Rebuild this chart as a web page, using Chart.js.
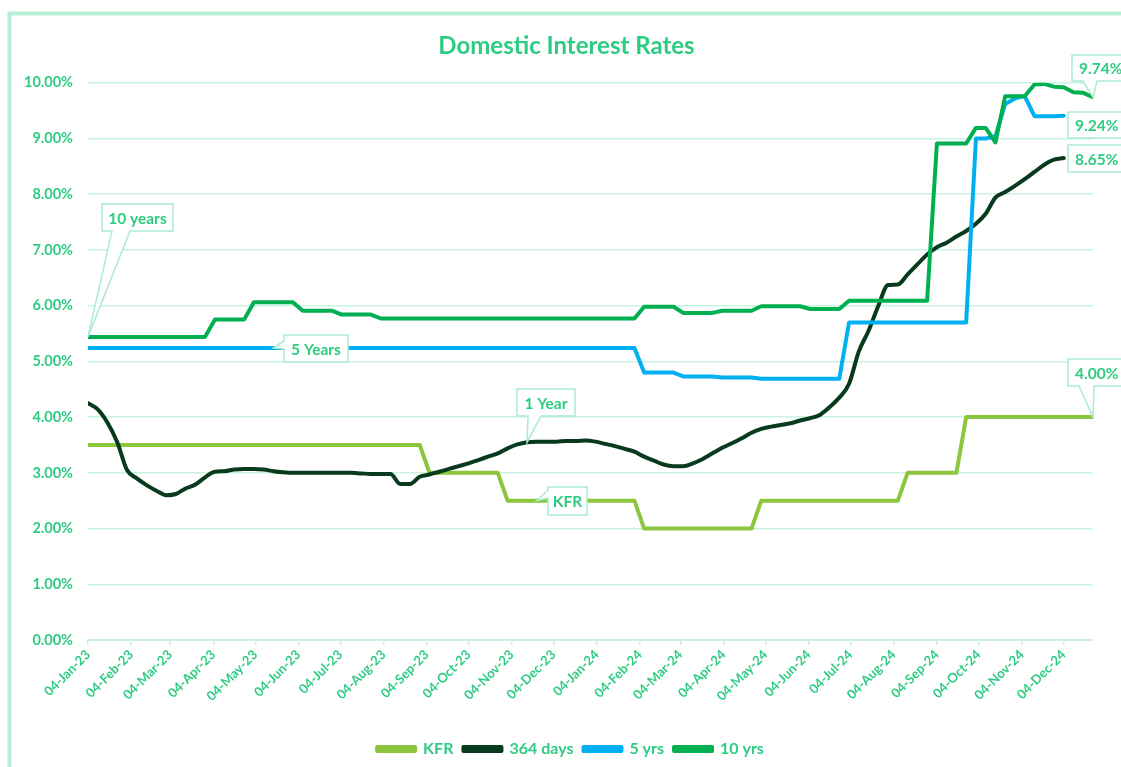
<!DOCTYPE html>
<html><head><meta charset="utf-8">
<script src="https://cdn.jsdelivr.net/npm/chart.js@4.4.1/dist/chart.umd.min.js"></script>
<style>html,body{margin:0;padding:0;background:#fff;overflow:hidden}#wrap{width:1121px;height:767px;position:relative}</style>
</head><body><div id="wrap"><canvas id="c" width="1121" height="767"></canvas></div>
<script>
// ---- DATA ----
const weeks = [
"2023-01-04","2023-01-11","2023-01-18","2023-01-25","2023-02-01","2023-02-08","2023-02-15","2023-02-22",
"2023-03-01","2023-03-08","2023-03-15","2023-03-22","2023-03-29","2023-04-05","2023-04-12","2023-04-19",
"2023-04-26","2023-05-03","2023-05-10","2023-05-17","2023-05-24","2023-05-31","2023-06-07","2023-06-14",
"2023-06-21","2023-06-28","2023-07-05","2023-07-12","2023-07-19","2023-07-26","2023-08-02","2023-08-09",
"2023-08-16","2023-08-23","2023-08-30","2023-09-06","2023-09-13","2023-09-20","2023-09-27","2023-10-04",
"2023-10-11","2023-10-18","2023-10-25","2023-11-01","2023-11-08","2023-11-15","2023-11-22","2023-11-29",
"2023-12-06","2023-12-13","2023-12-20","2023-12-27","2024-01-03","2024-01-10","2024-01-17","2024-01-24",
"2024-01-31","2024-02-07","2024-02-14","2024-02-21","2024-02-28","2024-03-06","2024-03-13","2024-03-20",
"2024-03-27","2024-04-03","2024-04-10","2024-04-17","2024-04-24","2024-05-01","2024-05-08","2024-05-15",
"2024-05-22","2024-05-29","2024-06-05","2024-06-12","2024-06-19","2024-06-26","2024-07-03","2024-07-10",
"2024-07-17","2024-07-24","2024-07-31","2024-08-07","2024-08-14","2024-08-21","2024-08-28","2024-09-04",
"2024-09-11","2024-09-18","2024-09-25","2024-10-02","2024-10-09","2024-10-16","2024-10-23","2024-10-30",
"2024-11-06","2024-11-13","2024-11-20","2024-11-27","2024-12-04","2024-12-11","2024-12-18","2024-12-25"];

const tickLabels = ["04-Jan-23","04-Feb-23","04-Mar-23","04-Apr-23","04-May-23","04-Jun-23","04-Jul-23",
"04-Aug-23","04-Sep-23","04-Oct-23","04-Nov-23","04-Dec-23","04-Jan-24","04-Feb-24","04-Mar-24","04-Apr-24",
"04-May-24","04-Jun-24","04-Jul-24","04-Aug-24","04-Sep-24","04-Oct-24","04-Nov-24","04-Dec-24"];

const yTicks = [0,1,2,3,4,5,6,7,8,9,10];

const seriesNames = ["KFR","364 days","5 yrs","10 yrs"];

const kfr = [
3.50,3.50,3.50,3.50,3.50,3.50,3.50,3.50,3.50,3.50,3.50,3.50,3.50,3.50,3.50,3.50,3.50,3.50,3.50,3.50,
3.50,3.50,3.50,3.50,3.50,3.50,3.50,3.50,3.50,3.50,3.50,3.50,3.50,3.50,3.50,
3.00,3.00,3.00,3.00,3.00,3.00,3.00,3.00,
2.50,2.50,2.50,2.50,2.50,2.50,2.50,2.50,2.50,2.50,2.50,2.50,2.50,2.50,
2.00,2.00,2.00,2.00,2.00,2.00,2.00,2.00,2.00,2.00,2.00,2.00,
2.50,2.50,2.50,2.50,2.50,2.50,2.50,2.50,2.50,2.50,2.50,2.50,2.50,2.50,2.50,
3.00,3.00,3.00,3.00,3.00,3.00,
4.00,4.00,4.00,4.00,4.00,4.00,4.00,4.00,4.00,4.00,4.00,4.00,4.00,4.00];

const days364 = [
4.25,4.14,3.90,3.55,3.05,2.90,2.78,2.68,2.60,2.62,2.72,2.79,2.92,3.02,3.03,3.06,3.07,3.07,3.06,3.03,
3.01,3.00,3.00,3.00,3.00,3.00,3.00,3.00,2.99,2.98,2.98,2.98,2.80,2.80,2.93,2.97,3.02,3.07,3.12,3.17,
3.23,3.29,3.35,3.44,3.51,3.55,3.56,3.56,3.56,3.57,3.57,3.58,3.56,3.52,3.48,3.43,3.38,3.29,3.22,3.15,
3.12,3.12,3.17,3.25,3.35,3.45,3.53,3.62,3.72,3.79,3.83,3.86,3.89,3.94,3.98,4.04,4.18,4.35,4.60,5.18,
5.55,6.00,6.37,6.38,6.56,6.74,6.92,7.05,7.13,7.24,7.34,7.47,7.65,7.94,8.04,8.15,8.27,8.40,8.53,8.62,
8.65,null,null,null];

const yrs5 = [
5.24,5.24,5.24,5.24,5.24,5.24,5.24,5.24,5.24,5.24,5.24,5.24,5.24,5.24,5.24,5.24,5.24,5.24,5.24,5.24,
5.24,5.24,5.24,5.24,5.24,5.24,5.24,5.24,5.24,5.24,5.24,5.24,5.24,5.24,5.24,5.24,5.24,5.24,5.24,5.24,
5.24,5.24,5.24,5.24,5.24,5.24,5.24,5.24,5.24,5.24,5.24,5.24,5.24,5.24,5.24,5.24,5.24,
4.80,4.80,4.80,4.80,4.73,4.73,4.73,4.73,4.71,4.71,4.71,4.71,
4.69,4.69,4.69,4.69,4.69,4.69,4.69,4.69,4.69,
5.70,5.70,5.70,5.70,5.70,5.70,5.70,5.70,5.70,5.70,5.70,5.70,5.70,
9.00,9.00,9.04,9.62,9.72,9.76,9.40,9.40,9.40,9.41,null,null,null];

const yrs10 = [
5.44,5.44,5.44,5.44,5.44,5.44,5.44,5.44,5.44,5.44,5.44,5.44,5.44,
5.75,5.75,5.75,5.75,6.06,6.06,6.06,6.06,6.06,5.91,5.91,5.91,5.91,5.84,5.84,5.84,5.84,
5.77,5.77,5.77,5.77,5.77,5.77,5.77,5.77,5.77,5.77,5.77,5.77,5.77,5.77,5.77,5.77,5.77,5.77,5.77,5.77,
5.77,5.77,5.77,5.77,5.77,5.77,5.77,
5.98,5.98,5.98,5.98,5.87,5.87,5.87,5.87,5.91,5.91,5.91,5.91,5.99,5.99,5.99,5.99,5.99,
5.94,5.94,5.94,5.94,6.09,6.09,6.09,6.09,6.09,6.09,6.09,6.09,6.09,
8.91,8.91,8.91,8.91,9.19,9.19,8.93,9.76,9.76,9.76,9.97,9.98,9.93,9.92,9.83,9.82,9.74];

const calloutTexts = ["10 years","5 Years","1 Year","KFR","4.00%","9.74%","9.24%","8.65%"];

// ---- STYLE ----
const TXT = '#2ecc82';
const GRID = '#c8f3df';
const FONT = 'Lato, "Open Sans", sans-serif';
const colors = ['#8cc63e','#083a1d','#00b0f0','#00b050'];

// ---- derived ----
const DAY = 86400000;
const base = Date.parse(weeks[0] + 'T00:00:00Z');
const xDays = weeks.map(s => (Date.parse(s + 'T00:00:00Z') - base) / DAY);
const MON = ['Jan','Feb','Mar','Apr','May','Jun','Jul','Aug','Sep','Oct','Nov','Dec'];
const tickDays = tickLabels.map(s => { const p = s.split('-'); return (Date.UTC(2000 + (+p[2]), MON.indexOf(p[1]), +p[0]) - base) / DAY; });
const toPts = arr => arr.map((v, i) => ({x: xDays[i], y: v})).filter(p => p.y !== null);

const seriesVals = [kfr, days364, yrs5, yrs10];
const datasets = seriesVals.map((vals, i) => ({
  label: seriesNames[i],
  data: toPts(vals),
  borderColor: colors[i],
  backgroundColor: colors[i],
  borderWidth: 4,
  pointRadius: 0,
  pointHoverRadius: 0,
  tension: i === 1 ? 0.4 : 0,
  cubicInterpolationMode: i === 1 ? 'monotone' : 'default',
  borderCapStyle: 'round',
  borderJoinStyle: 'round',
  order: 3 - i
}));

// callout layout
const callouts = [
  {t:0, ds:3, i:0,   box:[102,204,71,27], side:'bottom', a:112, b:130, align:'center'},
  {t:1, ds:2, i:19,  box:[284,335,64,27], side:'left',   a:341, b:349, align:'center'},
  {t:2, ds:1, i:45,  box:[517,389,58,27], side:'bottom', a:528, b:541, align:'center'},
  {t:3, ds:0, i:46,  box:[548,487,39,28], side:'left',   a:490, b:498, align:'center'},
  {t:4, ds:0, i:103, box:[1068,359,70,27], side:'bottom', a:1079, b:1094, align:'left'},
  {t:5, ds:3, i:103, box:[1072,55,70,26], side:'bottom', a:1083, b:1097, align:'left'},
  {t:6, ds:2, i:null, box:[1068,112,70,26], side:null, align:'left'},
  {t:7, ds:1, i:null, box:[1068,145,70,27], side:null, align:'left'}
];

const framePlugin = {
  id: 'frame',
  afterLayout(chart) {
    // centre title and legend as in the reference
    chart.titleBlock.left += 15; chart.titleBlock.right += 15;
    chart.legend.left += 19; chart.legend.right += 19;
  },
  beforeDraw(chart) {
    const ctx = chart.ctx;
    ctx.save();
    ctx.fillStyle = '#fff';
    ctx.fillRect(0, 0, chart.width, chart.height);
    ctx.strokeStyle = '#b8f0d6';
    ctx.lineWidth = 4;
    ctx.strokeRect(9.5, 13.5, 1300, 900);
    ctx.restore();
  }
};

const calloutPlugin = {
  id: 'callouts',
  afterDraw(chart) {
    const ctx = chart.ctx;
    ctx.save();
    callouts.forEach(c => {
      const [x, y, w, h] = c.box;
      ctx.beginPath();
      if (c.side === 'bottom') {
        const el = chart.getDatasetMeta(c.ds).data[c.i];
        ctx.moveTo(x, y); ctx.lineTo(x + w, y); ctx.lineTo(x + w, y + h);
        ctx.lineTo(c.b, y + h); ctx.lineTo(el.x, el.y); ctx.lineTo(c.a, y + h);
        ctx.lineTo(x, y + h); ctx.closePath();
      } else if (c.side === 'left') {
        const el = chart.getDatasetMeta(c.ds).data[c.i];
        ctx.moveTo(x, y); ctx.lineTo(x + w, y); ctx.lineTo(x + w, y + h); ctx.lineTo(x, y + h);
        ctx.lineTo(x, c.b); ctx.lineTo(el.x, el.y); ctx.lineTo(x, c.a); ctx.closePath();
      } else {
        ctx.rect(x, y, w, h);
      }
      ctx.fillStyle = '#fff';
      ctx.fill();
      ctx.strokeStyle = '#a9ecd0';
      ctx.lineWidth = 1.5;
      ctx.stroke();
      ctx.fillStyle = TXT;
      ctx.font = 'bold 15.5px ' + FONT;
      ctx.textBaseline = 'middle';
      if (c.align === 'center') { ctx.textAlign = 'center'; ctx.fillText(calloutTexts[c.t], x + w / 2, y + h / 2 + 1); }
      else { ctx.textAlign = 'left'; ctx.fillText(calloutTexts[c.t], x + 7, y + h / 2 + 1); }
    });
    ctx.restore();
  }
};

new Chart(document.getElementById('c'), {
  type: 'line',
  data: { datasets },
  options: {
    responsive: false,
    devicePixelRatio: 1,
    animation: false,
    events: [],
    layout: { padding: { left: 10, right: 28, top: 13, bottom: 0 } },
    plugins: {
      title: {
        display: true,
        text: 'Domestic Interest Rates',
        color: TXT,
        font: { family: FONT, size: 24, weight: 'bold' },
        padding: { top: 19, bottom: 22 }
      },
      legend: {
        position: 'bottom',
        labels: {
          color: TXT,
          font: { family: FONT, size: 16, weight: 'bold' },
          boxWidth: 38, boxHeight: 4, padding: 10,
          sort: (a, b) => a.datasetIndex - b.datasetIndex
        }
      },
      tooltip: { enabled: false }
    },
    scales: {
      x: {
        type: 'linear',
        min: 0,
        max: xDays[xDays.length - 1],
        afterBuildTicks: s => { s.ticks = tickDays.map(v => ({ value: v })); },
        afterFit: s => { s.height = 91; },
        ticks: {
          autoSkip: false, maxRotation: 45, minRotation: 45, padding: 2,
          color: TXT, font: { family: FONT, size: 13, weight: 'bold' },
          callback: v => { const k = tickDays.indexOf(v); return k >= 0 ? tickLabels[k] : ''; }
        },
        grid: { drawOnChartArea: false, drawTicks: true, tickLength: 5, color: GRID, lineWidth: 1.5 },
        border: { display: true, color: GRID, width: 2 }
      },
      y: {
        min: 0, max: 10,
        afterBuildTicks: s => { s.ticks = yTicks.map(v => ({ value: v })); },
        afterFit: s => { s.width = 78; },
        ticks: {
          padding: 15, color: TXT, font: { family: FONT, size: 14.5, weight: 'bold' },
          callback: v => v.toFixed(2) + '%'
        },
        grid: { drawTicks: false, color: GRID, lineWidth: 1.5 },
        border: { display: false }
      }
    }
  },
  plugins: [framePlugin, calloutPlugin]
});
</script>
</body></html>
